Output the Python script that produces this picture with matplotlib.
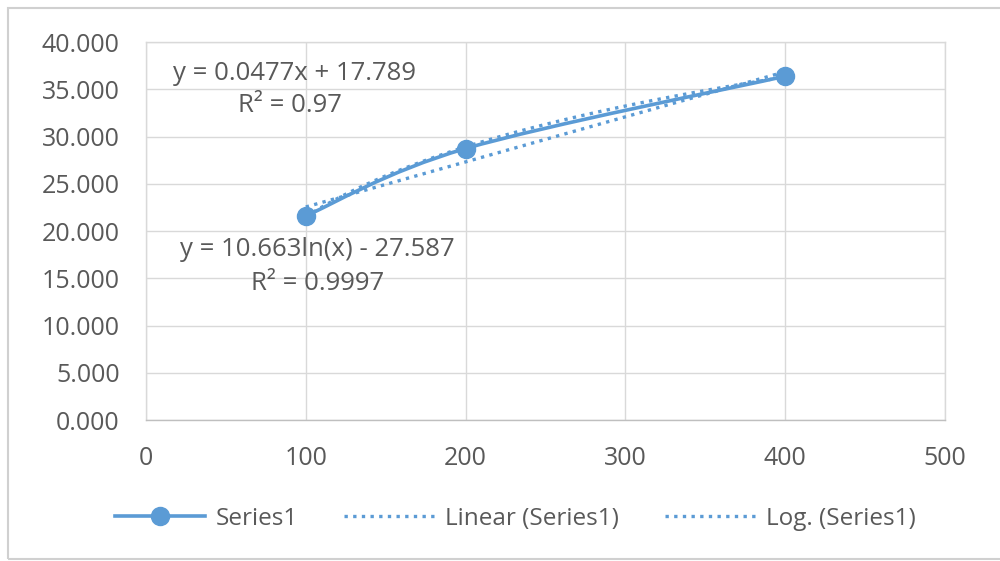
import numpy as np
import matplotlib
matplotlib.use("Agg")
import matplotlib.pyplot as plt
from matplotlib.path import Path
import matplotlib.patches as patches
from matplotlib.lines import Line2D

# data
x_vals = [100, 200, 400]
y_vals = [21.605, 28.734, 36.387]
y_ticks = [0, 5, 10, 15, 20, 25, 30, 35, 40]
x_ticks = [0, 100, 200, 300, 400, 500]
lin_label = ["y = 0.0477x + 17.789", "R² = 0.97"]
log_label = ["y = 10.663ln(x) - 27.587", "R² = 0.9997"]
legend_labels = ["Series1", "Linear (Series1)", "Log. (Series1)"]

blue = "#5B9BD5"
grid = "#D9D9D9"
txt = "#595959"
plt.rcParams["font.family"] = ["Open Sans", "DejaVu Sans"]


def smooth_path(xs, ys):
    # Catmull-Rom style bezier, close to Excel's smoothed line
    pts = np.column_stack([xs, ys]).astype(float)
    n = len(pts)
    verts = [pts[0]]
    codes = [Path.MOVETO]
    for i in range(n - 1):
        p0 = pts[i - 1] if i > 0 else pts[i]
        p1 = pts[i]
        p2 = pts[i + 1]
        p3 = pts[i + 2] if i + 2 < n else pts[i + 1]
        c1 = p1 + (p2 - p0) / 6.0
        c2 = p2 - (p3 - p1) / 6.0
        verts += [c1, c2, p2]
        codes += [Path.CURVE4] * 3
    return Path(verts, codes)


fig = plt.figure(figsize=(10, 5.61), dpi=100)
ax = fig.add_axes([0.146, 0.2513, 0.799, 0.6737])

# outer chart border
fig.patches.append(patches.Rectangle((0.008, 0.004), 1.1, 0.982, transform=fig.transFigure,
                                     fill=False, edgecolor="#D0D0D0", linewidth=1.5))

ax.set_xlim(0, 500)
ax.set_ylim(0, 40)
ax.set_xticks(x_ticks)
ax.set_yticks(y_ticks)
ax.set_yticklabels([f"{v:.3f}" for v in y_ticks])
ax.grid(True, color=grid, linewidth=1)
ax.set_axisbelow(True)
for s in ax.spines.values():
    s.set_color(grid)
    s.set_linewidth(1)
ax.spines["bottom"].set_color("#BFBFBF")
ax.tick_params(length=0, labelsize=18, colors=txt)
ax.tick_params(axis="y", pad=19)
ax.tick_params(axis="x", pad=19)

# trendlines fitted from the data
xs = np.array(x_vals, float)
ys = np.array(y_vals, float)
m, b = np.polyfit(xs, ys, 1)
a, c = np.polyfit(np.log(xs), ys, 1)
xt = np.linspace(xs.min(), xs.max(), 100)
ax.plot(xt, m * xt + b, color=blue, linestyle=(0, (1, 1.6)), linewidth=2.4, zorder=3)
ax.plot(xt, a * np.log(xt) + c, color=blue, linestyle=(0, (1, 1.6)), linewidth=2.4, zorder=3)

# smoothed series line
ax.add_patch(patches.PathPatch(smooth_path(x_vals, y_vals), fill=False,
                               edgecolor=blue, linewidth=2.6, zorder=4))
ax.plot(x_vals, y_vals, linestyle="none", marker="o", markersize=13, color=blue, zorder=5)

# trendline labels
ax.text(93, 36.7, lin_label[0], ha="center", va="center", fontsize=18.5, color=txt)
ax.text(90, 33.3, lin_label[1], ha="center", va="center", fontsize=18.5, color=txt)
ax.text(107.5, 18.0, log_label[0], ha="center", va="center", fontsize=18.5, color=txt)
ax.text(107.5, 14.5, log_label[1], ha="center", va="center", fontsize=18.5, color=txt)

handles = [
    Line2D([], [], color=blue, linewidth=2.6, marker="o", markersize=13),
    Line2D([], [], color=blue, linewidth=2.4, linestyle=(0, (1, 1.6))),
    Line2D([], [], color=blue, linewidth=2.4, linestyle=(0, (1, 1.6))),
]
fig.legend(handles, legend_labels, loc="center", bbox_to_anchor=(0.515, 0.075), ncol=3,
           frameon=False, fontsize=17.5, labelcolor=txt, handlelength=3.7,
           columnspacing=1.9, handletextpad=0.45)

fig.savefig("out.png", dpi=100, facecolor="white")
